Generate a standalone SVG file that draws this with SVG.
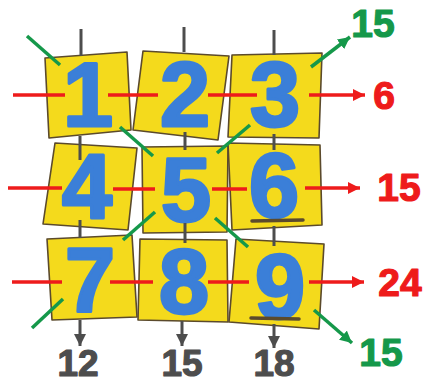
<svg xmlns="http://www.w3.org/2000/svg" width="429" height="384" viewBox="0 0 429 384">
<style>
.tile{fill:#f4da1c;stroke:#5b4a2c;stroke-width:1.6;stroke-linejoin:round}
.dig{font-family:"Liberation Sans",Arial,sans-serif;font-weight:bold;font-size:90px;fill:#3b7fd8;stroke:#3b7fd8;stroke-width:3;stroke-linejoin:round;text-anchor:middle}
.ul{stroke:#5b4a2c;stroke-width:3.5;stroke-linecap:round}
.g{stroke:#4d4d4d;stroke-width:3}
.r{stroke:#ee1b1b;stroke-width:3.5}
.gr{stroke:#15984a;stroke-width:3.5}
.lab{font-family:"Liberation Sans",Arial,sans-serif;font-weight:bold;font-size:39px;text-anchor:middle;stroke-width:1.2;stroke-linejoin:round}
.bot{font-size:37px}
</style>
<defs>
<marker id="ag" markerUnits="userSpaceOnUse" markerWidth="14" markerHeight="12" refX="12" refY="6" orient="auto"><path d="M0,0 L12,6 L0,12 z" fill="#4d4d4d"/></marker>
<marker id="ar" markerUnits="userSpaceOnUse" markerWidth="14" markerHeight="12" refX="12" refY="6" orient="auto"><path d="M0,0 L12,6 L0,12 z" fill="#ee1b1b"/></marker>
<marker id="agr" markerUnits="userSpaceOnUse" markerWidth="14" markerHeight="12" refX="12" refY="6" orient="auto"><path d="M0,0 L12,6 L0,12 z" fill="#15984a"/></marker>
</defs>
<rect width="429" height="384" fill="#ffffff"/>
<g id="tile-1"><polygon class="tile" points="45,58 127,52 131,130 49,138"/><text class="dig" x="88" y="126">1</text></g>
<g id="tile-2"><polygon class="tile" points="143,51 229,56 218,140 133,130"/><text class="dig" x="185" y="126">2</text></g>
<g id="tile-3"><polygon class="tile" points="232,55 322,53 319,138 228,137"/><text class="dig" x="275" y="126">3</text></g>
<g id="tile-4"><polygon class="tile" points="55,143 137,148 128,230 43,224"/><text class="dig" x="87" y="218">4</text></g>
<g id="tile-5"><polygon class="tile" points="142,147 228,146 227,232 143,233"/><text class="dig" x="186" y="221">5</text></g>
<g id="tile-6"><polygon class="tile" points="228,143 320,145 322,225 232,230"/><text class="dig" x="274" y="217">6</text><line class="ul" x1="252" y1="221" x2="303" y2="220"/></g>
<g id="tile-7"><polygon class="tile" points="47,239 132,235 137,317 52,320"/><text class="dig" x="90" y="311">7</text></g>
<g id="tile-8"><polygon class="tile" points="140,239 227,240 228,322 138,320"/><text class="dig" x="184" y="313">8</text></g>
<g id="tile-9"><polygon class="tile" points="236,239 324,244 319,329 229,322"/><text class="dig" x="280" y="318">9</text><line class="ul" x1="251" y1="318" x2="299" y2="319"/></g>
<g id="connectors">
<line class="g" x1="81" y1="29" x2="81" y2="56"/>
<line class="g" x1="184" y1="27" x2="184" y2="52"/>
<line class="g" x1="274" y1="30" x2="274" y2="55"/>
<line class="g" x1="80" y1="136" x2="80" y2="160"/>
<line class="g" x1="185" y1="132" x2="185" y2="150"/>
<line class="g" x1="274" y1="134" x2="274" y2="150"/>
<line class="g" x1="80" y1="220" x2="80" y2="238"/>
<line class="g" x1="185" y1="223" x2="185" y2="243"/>
<line class="g" x1="274" y1="226" x2="274" y2="246"/>
<line class="g" x1="80" y1="320" x2="80" y2="346" marker-end="url(#ag)"/>
<line class="g" x1="182" y1="321" x2="182" y2="346" marker-end="url(#ag)"/>
<line class="g" x1="274" y1="324" x2="274" y2="348" marker-end="url(#ag)"/>
<line class="r" x1="13" y1="95" x2="65" y2="95"/>
<line class="r" x1="108" y1="95" x2="158" y2="95"/>
<line class="r" x1="208" y1="95" x2="257" y2="95"/>
<line class="r" x1="309" y1="95" x2="365" y2="95" marker-end="url(#ar)"/>
<line class="r" x1="8" y1="188" x2="62" y2="188"/>
<line class="r" x1="113" y1="189" x2="155" y2="189"/>
<line class="r" x1="212" y1="189" x2="247" y2="189"/>
<line class="r" x1="305" y1="188" x2="360" y2="188" marker-end="url(#ar)"/>
<line class="r" x1="12" y1="282" x2="62" y2="282"/>
<line class="r" x1="110" y1="282" x2="153" y2="282"/>
<line class="r" x1="208" y1="282" x2="249" y2="282"/>
<line class="r" x1="309" y1="282" x2="364" y2="282" marker-end="url(#ar)"/>
<line class="gr" x1="27" y1="36" x2="60" y2="65"/>
<line class="gr" x1="120" y1="127" x2="153" y2="156"/>
<line class="gr" x1="250" y1="125" x2="217" y2="153"/>
<line class="gr" x1="155" y1="212" x2="123" y2="240"/>
<line class="gr" x1="215" y1="218" x2="248" y2="247"/>
<line class="gr" x1="63" y1="299" x2="32" y2="328"/>
<line class="gr" x1="311" y1="67" x2="350" y2="37" marker-end="url(#agr)"/>
<line class="gr" x1="314" y1="310" x2="352" y2="343" marker-end="url(#agr)"/>
</g>
<g id="label-top-right"><text class="lab" x="373" y="37" fill="#15984a" stroke="#15984a">15</text></g>
<g id="label-row1"><text class="lab" x="384" y="109" fill="#ee1b1b" stroke="#ee1b1b">6</text></g>
<g id="label-row2"><text class="lab" x="399" y="201" fill="#ee1b1b" stroke="#ee1b1b">15</text></g>
<g id="label-row3"><text class="lab" x="400" y="296" fill="#ee1b1b" stroke="#ee1b1b">24</text></g>
<g id="label-bottom-right"><text class="lab" x="381" y="366" fill="#15984a" stroke="#15984a">15</text></g>
<g id="label-col1"><text class="lab bot" x="78" y="376" fill="#4d4d4d" stroke="#4d4d4d">12</text></g>
<g id="label-col2"><text class="lab bot" x="182" y="376" fill="#4d4d4d" stroke="#4d4d4d">15</text></g>
<g id="label-col3"><text class="lab bot" x="274" y="376" fill="#4d4d4d" stroke="#4d4d4d">18</text></g>
</svg>
